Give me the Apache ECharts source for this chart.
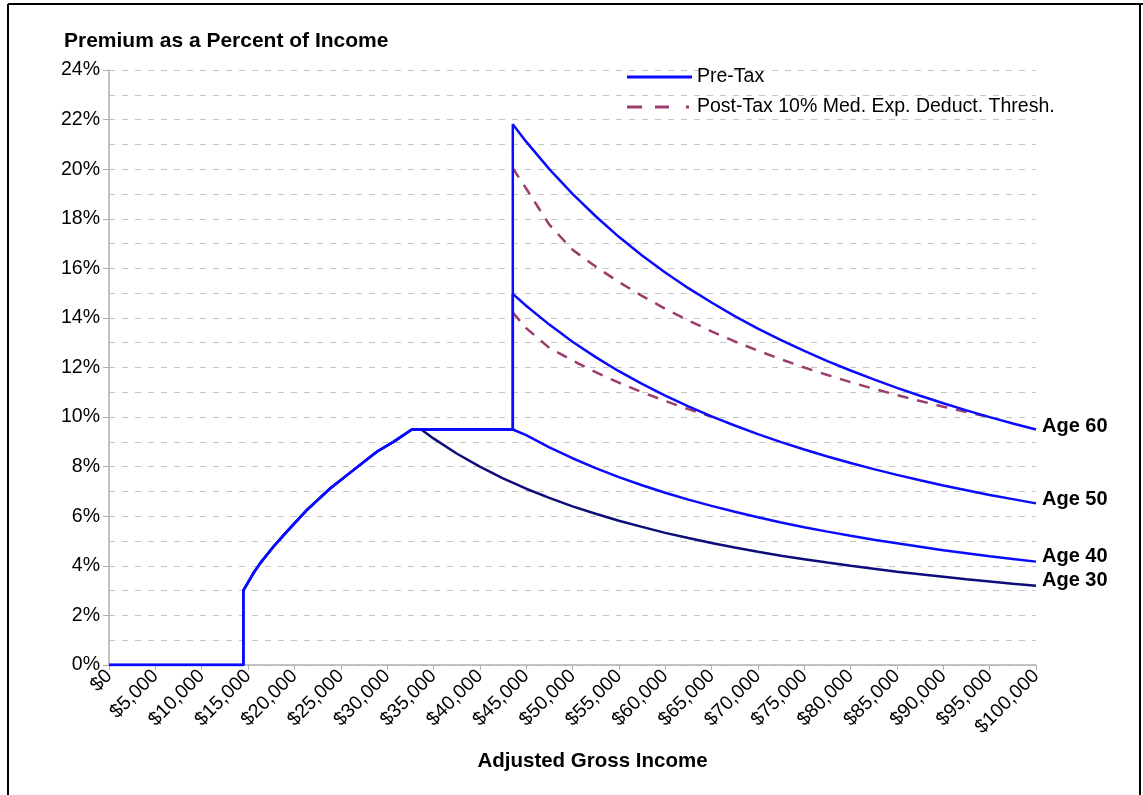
<!DOCTYPE html>
<html>
<head>
<meta charset="utf-8">
<script src="https://cdn.jsdelivr.net/npm/echarts@6/dist/echarts.min.js"></script>
<style>
html,body{margin:0;padding:0;background:#fff;}
#chart{width:1143px;height:795px;}
</style>
</head>
<body>
<div id="chart"></div>
<script>
// Shared subsidized part (all ages) – income ($) and premium as % of income
const baseIncome = [0, 14484, 14484, 15570, 16300, 17730, 19180, 21330, 23850, 26360, 28890, 30680, 32670, 43560];
const basePct    = [0, 0,     3.0,   3.7,   4.1,   4.77,  5.38,  6.25,  7.12,  7.86,  8.6,   9.0,   9.5,   9.5];

// Unsubsidized part above the cliff
const tailIncome = [43560, 45000, 47500, 50000, 52500, 55000, 57500, 60000, 62500, 65000, 67500, 70000, 72500, 75000, 77500, 80000, 82500, 85000, 87500, 90000, 92500, 95000, 97500, 100000];
const age60Pct = [21.81, 21.11, 20.0, 19.0, 18.10, 17.27, 16.52, 15.83, 15.2, 14.62, 14.07, 13.57, 13.10, 12.67, 12.26, 11.88, 11.52, 11.18, 10.86, 10.56, 10.27, 10.0, 9.74, 9.5];
const age50Pct = [14.97, 14.49, 13.73, 13.04, 12.42, 11.85, 11.34, 10.87, 10.43, 10.03, 9.66, 9.31, 8.99, 8.69, 8.41, 8.15, 7.90, 7.67, 7.45, 7.24, 7.05, 6.86, 6.69, 6.52];
const age40Pct = [9.57, 9.27, 8.78, 8.34, 7.94, 7.58, 7.25, 6.95, 6.67, 6.42, 6.18, 5.96, 5.75, 5.56, 5.38, 5.21, 5.05, 4.91, 4.77, 4.63, 4.51, 4.39, 4.28, 4.17];

// Age 30 branches off the 9.5% plateau
const age30Income = [33684, 35000, 37500, 40000, 42500, 45000, 47500, 50000, 52500, 55000, 57500, 60000, 62500, 65000, 67500, 70000, 72500, 75000, 77500, 80000, 82500, 85000, 87500, 90000, 92500, 95000, 97500, 100000];
const age30Pct    = [9.5, 9.14, 8.53, 8.0, 7.53, 7.11, 6.74, 6.4, 6.10, 5.82, 5.57, 5.33, 5.12, 4.92, 4.74, 4.57, 4.41, 4.27, 4.13, 4.0, 3.88, 3.76, 3.66, 3.56, 3.46, 3.37, 3.28, 3.2];

// Post-tax (10% medical expense deduction threshold)
const post60Income = [43560, 45000, 47500, 50000, 52500, 55000, 57500, 60000, 62500, 65000, 67500, 70000, 72500, 75000, 77500, 80000, 82500, 85000, 87500, 90000, 92500, 95000];
const post60Pct    = [20.04, 19.22, 17.76, 16.75, 16.07, 15.45, 14.89, 14.37, 13.90, 13.46, 13.05, 12.68, 12.33, 12.0, 11.70, 11.41, 11.14, 10.89, 10.65, 10.42, 10.20, 10.0];
const post50Income = [43560, 45000, 47500, 50000, 52500, 55000, 57500, 60000, 62500, 65000, 65200];
const post50Pct    = [14.22, 13.59, 12.79, 12.28, 11.81, 11.39, 11.0, 10.65, 10.32, 10.02, 10.0];

const ageLabels = ['Age 60', 'Age 50', 'Age 40', 'Age 30'];
const seriesNames = ['Pre-Tax', 'Post-Tax 10% Med. Exp. Deduct. Thresh.'];

const zip = (xs, ys) => xs.map((x, i) => [x, ys[i]]);
const base = zip(baseIncome, basePct);

const FONT = '"Liberation Sans", Arial, sans-serif';
const BLUE = '#0a0aff';
const NAVY = '#0c0c7a';
const MAROON = '#9b3c6c';

function endLbl(txt, dy) {
  return {
    show: true,
    formatter: txt,
    fontFamily: FONT,
    fontWeight: 'bold',
    fontSize: 20,
    color: '#000',
    distance: 6,
    offset: [0, dy]
  };
}

const chart = echarts.init(document.getElementById('chart'), null, {renderer: 'canvas'});
chart.setOption({
  animation: false,
  backgroundColor: '#fff',
  title: {
    text: 'Premium as a Percent of Income',
    left: 59,
    top: 26,
    textStyle: {fontFamily: FONT, fontWeight: 'bold', fontSize: 21, color: '#000'}
  },
  legend: {
    data: [
      {name: seriesNames[0], icon: 'path://M0,0h65v3h-65z'},
      {name: seriesNames[1], icon: 'path://M0,0h15v3h-15z M28,0h14v3h-14z M59,0h3v3h-3z M64.9,1h0.1v1h-0.1z'}
    ],
    orient: 'vertical',
    left: 622,
    top: 62,
    itemWidth: 65,
    itemHeight: 3,
    itemGap: 10,
    textStyle: {fontFamily: FONT, fontSize: 19.5, color: '#000'}
  },
  grid: {left: 109, right: 107, top: 70, bottom: 130, containLabel: false},
  xAxis: {
    type: 'value',
    min: 0,
    max: 100000,
    interval: 5000,
    name: 'Adjusted Gross Income',
    nameLocation: 'middle',
    nameGap: 86,
    nameTextStyle: {fontFamily: FONT, fontWeight: 'bold', fontSize: 20.5, color: '#000', padding: [0, 0, 0, 40]},
    axisLine: {show: true, lineStyle: {color: '#b0b0b0', width: 1.5}},
    axisTick: {show: true, length: 5, lineStyle: {color: '#b0b0b0'}},
    splitLine: {show: false},
    axisLabel: {
      rotate: 45,
      margin: 8,
      fontFamily: FONT,
      fontSize: 19.5,
      color: '#000',
      formatter: v => '$' + v.toLocaleString('en-US')
    }
  },
  yAxis: {
    type: 'value',
    min: 0,
    max: 24,
    interval: 2,
    axisLine: {show: true, lineStyle: {color: '#b0b0b0', width: 1.5}},
    axisTick: {show: true, length: 6, lineStyle: {color: '#b0b0b0'}},
    splitLine: {show: true, lineStyle: {color: '#c4c4c4', type: [6, 7], width: 1}},
    minorTick: {show: false, splitNumber: 2},
    minorSplitLine: {show: true, lineStyle: {color: '#c4c4c4', type: [6, 7], width: 1}},
    axisLabel: {
      margin: 9,
      fontFamily: FONT,
      fontSize: 19.5,
      color: '#000',
      formatter: '{value}%'
    }
  },
  series: [
    {
      name: seriesNames[1], type: 'line', symbol: 'none', data: zip(post60Income, post60Pct),
      lineStyle: {color: MAROON, width: 2.5, type: [11, 9]}, itemStyle: {color: MAROON}, z: 2
    },
    {
      name: seriesNames[1], type: 'line', symbol: 'none', data: zip(post50Income, post50Pct),
      lineStyle: {color: MAROON, width: 2.5, type: [11, 9]}, itemStyle: {color: MAROON}, z: 2
    },
    {
      name: 'Age 30 Pre-Tax', type: 'line', symbol: 'none', data: zip(age30Income, age30Pct),
      lineStyle: {color: NAVY, width: 2.5}, itemStyle: {color: NAVY}, z: 3,
      endLabel: endLbl(ageLabels[3], -5)
    },
    {
      name: seriesNames[0], type: 'line', symbol: 'none', data: base.concat(zip(tailIncome, age40Pct)),
      lineStyle: {color: BLUE, width: 2.5}, itemStyle: {color: BLUE}, z: 4,
      endLabel: endLbl(ageLabels[2], -5)
    },
    {
      name: seriesNames[0], type: 'line', symbol: 'none', data: base.concat(zip(tailIncome, age50Pct)),
      lineStyle: {color: BLUE, width: 2.5}, itemStyle: {color: BLUE}, z: 4,
      endLabel: endLbl(ageLabels[1], -4)
    },
    {
      name: seriesNames[0], type: 'line', symbol: 'none', data: base.concat(zip(tailIncome, age60Pct)),
      lineStyle: {color: BLUE, width: 2.5}, itemStyle: {color: BLUE}, z: 4,
      endLabel: endLbl(ageLabels[0], -3)
    }
  ],
  graphic: [
    {type: 'line', shape: {x1: 8, y1: 4, x2: 1143, y2: 4}, style: {stroke: '#000', lineWidth: 2}},
    {type: 'line', shape: {x1: 8, y1: 4, x2: 8, y2: 795}, style: {stroke: '#000', lineWidth: 2}},
    {type: 'line', shape: {x1: 1140, y1: 4, x2: 1140, y2: 795}, style: {stroke: '#000', lineWidth: 2}}
  ]
});
</script>
</body>
</html>
